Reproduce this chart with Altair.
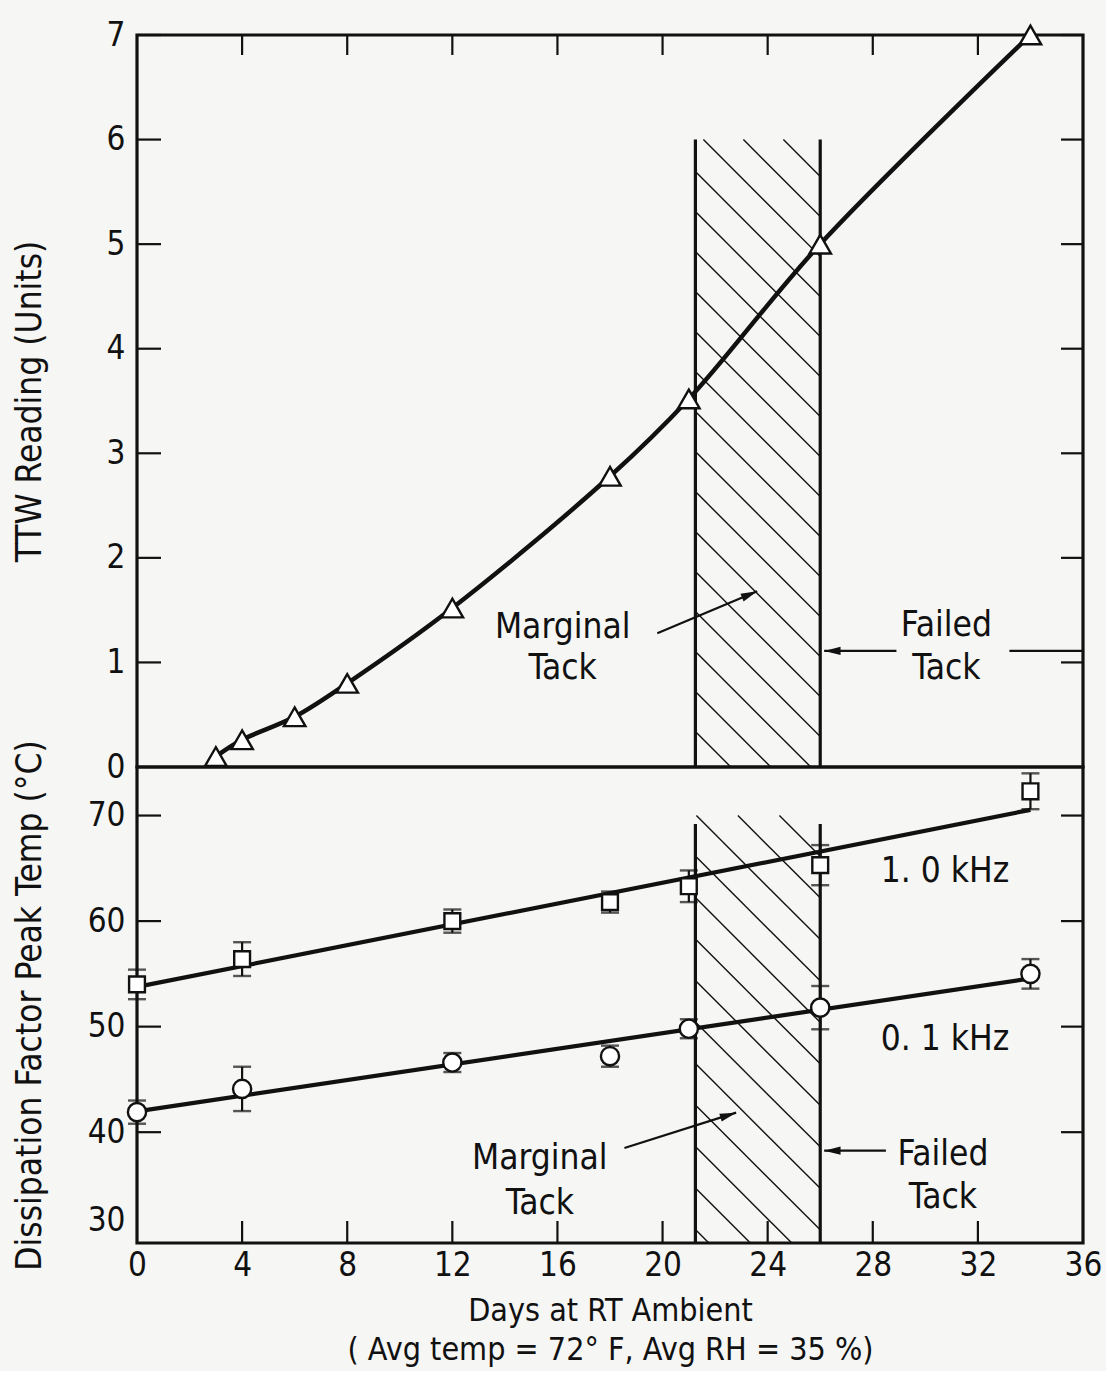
import math
import altair as alt
import pandas as pd

FONT = "Liberation Sans Narrow, DejaVu Sans Condensed, Roboto, sans-serif"
INK = "#111111"
PAPER = "#f6f6f4"

# ---------------- data ----------------
# TTW reading vs. days
ttw_days = [3, 4, 6, 8, 12, 18, 21, 26, 34]
ttw_reading = [0.1, 0.26, 0.48, 0.8, 1.52, 2.78, 3.52, 5.0, 7.0]

# dissipation-factor peak temperature vs. days
df_days = [0, 4, 12, 18, 21, 26, 34]
temp_1khz = [54.0, 56.4, 60.0, 61.8, 63.3, 65.3, 72.3]
err_1khz = [1.4, 1.6, 1.1, 1.0, 1.5, 1.9, 1.7]
temp_01khz = [41.9, 44.1, 46.6, 47.2, 49.8, 51.8, 55.0]
err_01khz = [1.1, 2.1, 0.9, 1.0, 0.9, 2.05, 1.4]

# tack condition bands (days)
marginal_start = 21.25
failed_start = 26.0
band_top_ttw = 6.0
band_top_temp = 69.2
hatch_top_temp = 70.0

x_ticks = list(range(0, 37, 4))
ttw_ticks = list(range(0, 8))
temp_ticks = [30, 40, 50, 60, 70]

X_DOMAIN = [0, 36]
TTW_DOMAIN = [0, 7]
TEMP_DOMAIN = [29.5, 74.6]

# ---------------- sizes ----------------
W = 946
H_TOP = 732
H_BOT = 476
px_per_day = W / (X_DOMAIN[1] - X_DOMAIN[0])
px_per_ttw = H_TOP / (TTW_DOMAIN[1] - TTW_DOMAIN[0])
px_per_temp = H_BOT / (TEMP_DOMAIN[1] - TEMP_DOMAIN[0])

xs = alt.Scale(domain=X_DOMAIN, nice=False, zero=False)
ys_top = alt.Scale(domain=TTW_DOMAIN, nice=False, zero=False)
ys_bot = alt.Scale(domain=TEMP_DOMAIN, nice=False, zero=False)


def hatch(x0, x1, y0, y1, sy, spacing, phase):
    """45-degree (screen) hatch segments clipped to the box [x0,x1]x[y0,y1]."""
    w = (x1 - x0) * px_per_day
    h = (y1 - y0) * sy
    rows = []
    c = phase
    while c - spacing > -w:
        c -= spacing
    while c < h:
        u0 = max(0.0, -c)
        u1 = min(w, h - c)
        if u1 > u0:
            rows.append({
                "x": x0 + u0 / px_per_day, "y": y1 - (u0 + c) / sy,
                "x2": x0 + u1 / px_per_day, "y2": y1 - (u1 + c) / sy,
            })
        c += spacing
    return pd.DataFrame(rows)


def arrows(rows, sy):
    out = []
    for r in rows:
        dx = (r["x2"] - r["x"]) * px_per_day
        dy = -(r["y2"] - r["y"]) * sy
        ang = math.degrees(math.atan2(dx, -dy)) % 360
        out.append(dict(r, angle=ang))
    return pd.DataFrame(out)


# arrowhead: tip at the origin, body trailing behind it
HEAD = "M0,0L0.4,1.6L-0.4,1.6Z"


def frame_ticks(ticks_y, ticks_x, height, side_x="top"):
    tick_df_y = pd.DataFrame({"v": ticks_y})
    tick_df_x = pd.DataFrame({"v": ticks_x})
    left = alt.Chart(tick_df_y).mark_rule(color=INK, strokeWidth=2.2).encode(
        y=alt.Y("v:Q"), x=alt.value(0), x2=alt.value(24))
    right = alt.Chart(tick_df_y).mark_rule(color=INK, strokeWidth=2.2).encode(
        y=alt.Y("v:Q"), x=alt.value(W - 22), x2=alt.value(W))
    if side_x == "top":
        horiz = alt.Chart(tick_df_x).mark_rule(color=INK, strokeWidth=2.2).encode(
            x=alt.X("v:Q"), y=alt.value(0), y2=alt.value(20))
    else:
        horiz = alt.Chart(tick_df_x).mark_rule(color=INK, strokeWidth=2.2).encode(
            x=alt.X("v:Q"), y=alt.value(height - 22), y2=alt.value(height))
    return [left, right, horiz]


# ================= top panel: TTW reading =================
ttw_df = pd.DataFrame({"day": ttw_days, "ttw": ttw_reading})

top_hatch = hatch(marginal_start, failed_start, TTW_DOMAIN[0], band_top_ttw,
                  px_per_ttw, 40.0, 32.0)
top_bounds = pd.DataFrame({"x": [marginal_start, failed_start],
                           "y": [0.0, 0.0], "y2": [band_top_ttw, band_top_ttw]})

top_text = pd.DataFrame({
    "x": [16.2, 16.2, 30.8, 30.8],
    "y": [1.34, 0.95, 1.36, 0.95],
    "t": ["Marginal", "Tack", "Failed", "Tack"],
})
top_arrows = arrows([
    {"x": 19.8, "y": 1.28, "x2": 23.6, "y2": 1.68},
    {"x": 28.9, "y": 1.11, "x2": 26.15, "y2": 1.11},
], px_per_ttw)
top_leader = pd.DataFrame({"x": [33.2], "y": [1.11], "x2": [36.0], "y2": [1.11]})

base_top = alt.Chart(ttw_df)

top_layers = [
    alt.Chart(top_hatch).mark_rule(color=INK, strokeWidth=1.4).encode(
        x=alt.X("x:Q", scale=xs, axis=None), y=alt.Y("y:Q", scale=ys_top),
        x2="x2:Q", y2="y2:Q"),
    alt.Chart(top_bounds).mark_rule(color=INK, strokeWidth=3.2).encode(
        x=alt.X("x:Q", scale=xs, axis=None), y=alt.Y("y:Q", scale=ys_top), y2="y2:Q"),
    base_top.mark_line(color=INK, strokeWidth=4.5, interpolate="catmull-rom").encode(
        x=alt.X("day:Q", scale=xs, axis=None), y=alt.Y("ttw:Q", scale=ys_top)),
    base_top.mark_point(shape="triangle-up", size=460, filled=True, fill="white",
                        stroke=INK, strokeWidth=2.4, opacity=1).encode(
        x=alt.X("day:Q", scale=xs, axis=None), y=alt.Y("ttw:Q", scale=ys_top)),
    alt.Chart(top_arrows).mark_rule(color=INK, strokeWidth=2.2).encode(
        x=alt.X("x:Q", scale=xs, axis=None), y=alt.Y("y:Q", scale=ys_top),
        x2="x2:Q", y2="y2:Q"),
    alt.Chart(top_leader).mark_rule(color=INK, strokeWidth=2.2).encode(
        x=alt.X("x:Q", scale=xs, axis=None), y=alt.Y("y:Q", scale=ys_top),
        x2="x2:Q", y2="y2:Q"),
    alt.Chart(top_arrows).mark_point(shape=HEAD, size=420, filled=True, color=INK,
                                     opacity=1).encode(
        x=alt.X("x2:Q", scale=xs, axis=None), y=alt.Y("y2:Q", scale=ys_top),
        angle=alt.Angle("angle:Q", scale=None)),
    alt.Chart(top_text).mark_text(font=FONT, fontSize=35, color=INK).encode(
        x=alt.X("x:Q", scale=xs, axis=None), y=alt.Y("y:Q", scale=ys_top), text="t:N"),
]
top_layers += frame_ticks(ttw_ticks[1:], x_ticks[1:-1], H_TOP, "top")

top = alt.layer(*top_layers).encode(
    y=alt.Y("y:Q", scale=ys_top,
            axis=alt.Axis(values=ttw_ticks, title="TTW Reading (Units)", format="d",
                          titleX=-97, titleBaseline="alphabetic",
                          titleFontSize=35))
).properties(width=W, height=H_TOP)

# ================= bottom panel: dissipation-factor peak temp =================
temp_df = pd.DataFrame({
    "day": df_days * 2,
    "temp": temp_1khz + temp_01khz,
    "err": err_1khz + err_01khz,
    "freq": ["1.0 kHz"] * len(df_days) + ["0.1 kHz"] * len(df_days),
})
temp_df["lo"] = temp_df["temp"] - temp_df["err"]
temp_df["hi"] = temp_df["temp"] + temp_df["err"]

bot_hatch = hatch(marginal_start, failed_start, TEMP_DOMAIN[0], hatch_top_temp,
                  px_per_temp, 41.5, 40.5)
bot_bounds = pd.DataFrame({"x": [marginal_start, failed_start],
                           "y": [TEMP_DOMAIN[0]] * 2, "y2": [band_top_temp] * 2})
bot_text = pd.DataFrame({
    "x": [15.33, 15.33, 30.67, 30.67, 30.75, 30.75],
    "y": [37.6, 33.3, 37.9, 33.9, 64.7, 48.8],
    "t": ["Marginal", "Tack", "Failed", "Tack", "1. 0 kHz", "0. 1 kHz"],
})
bot_arrows = arrows([
    {"x": 18.55, "y": 38.5, "x2": 22.8, "y2": 41.85},
    {"x": 28.5, "y": 38.25, "x2": 26.15, "y2": 38.25},
], px_per_temp)

base_bot = alt.Chart(temp_df)
xb = alt.X("day:Q", scale=xs)
yb = alt.Y("temp:Q", scale=ys_bot)

bot_layers = [
    alt.Chart(bot_hatch).mark_rule(color=INK, strokeWidth=1.4).encode(
        x=alt.X("x:Q", scale=xs), y=alt.Y("y:Q", scale=ys_bot), x2="x2:Q", y2="y2:Q"),
    alt.Chart(bot_bounds).mark_rule(color=INK, strokeWidth=3.2).encode(
        x=alt.X("x:Q", scale=xs), y=alt.Y("y:Q", scale=ys_bot), y2="y2:Q"),
    base_bot.transform_regression("day", "temp", groupby=["freq"], extent=[0, 34])
    .mark_line(color=INK, strokeWidth=4.2).encode(x=xb, y=yb, detail="freq:N"),
    base_bot.mark_rule(color=INK, strokeWidth=2.2).encode(
        x=xb, y=alt.Y("lo:Q", scale=ys_bot), y2="hi:Q"),
    base_bot.mark_tick(color=INK, orient="horizontal", size=18, thickness=2.4).encode(
        x=xb, y=alt.Y("lo:Q", scale=ys_bot)),
    base_bot.mark_tick(color=INK, orient="horizontal", size=18, thickness=2.4).encode(
        x=xb, y=alt.Y("hi:Q", scale=ys_bot)),
    base_bot.transform_filter(alt.datum.freq == "1.0 kHz").mark_point(
        shape="square", size=250, filled=True, fill="white", stroke=INK,
        strokeWidth=2.4, opacity=1).encode(x=xb, y=yb),
    base_bot.transform_filter(alt.datum.freq == "0.1 kHz").mark_point(
        shape="circle", size=330, filled=True, fill="white", stroke=INK,
        strokeWidth=2.4, opacity=1).encode(x=xb, y=yb),
    alt.Chart(bot_arrows).mark_rule(color=INK, strokeWidth=2.2).encode(
        x=alt.X("x:Q", scale=xs), y=alt.Y("y:Q", scale=ys_bot), x2="x2:Q", y2="y2:Q"),
    alt.Chart(bot_arrows).mark_point(shape=HEAD, size=420, filled=True, color=INK,
                                     opacity=1).encode(
        x=alt.X("x2:Q", scale=xs), y=alt.Y("y2:Q", scale=ys_bot),
        angle=alt.Angle("angle:Q", scale=None)),
    alt.Chart(bot_text).mark_text(font=FONT, fontSize=35, color=INK).encode(
        x=alt.X("x:Q", scale=xs), y=alt.Y("y:Q", scale=ys_bot), text="t:N"),
]
bot_layers += frame_ticks(temp_ticks[1:], x_ticks[1:-1], H_BOT, "bottom")

bottom = alt.layer(*bot_layers).encode(
    x=alt.X("x:Q", scale=xs,
            axis=alt.Axis(values=x_ticks, format="d", labelPadding=6, labelFlush=False,
                          title=["Days at RT Ambient",
                                 "( Avg temp = 72\u00b0 F,  Avg RH = 35 %)"],
                          titlePadding=13, titleLineHeight=39, titleFontSize=32)),
    y=alt.Y("y:Q", scale=ys_bot,
            axis=alt.Axis(values=temp_ticks, title="Dissipation Factor Peak Temp (\u00b0C)",
                          format="d", labelFlush=20, titleX=-97,
                          titleBaseline="alphabetic", titleFontSize=35)),
).properties(width=W, height=H_BOT)

chart = alt.vconcat(top, bottom, spacing=0, bounds="flush").properties(
    padding={"left": 10, "top": 17, "right": 2, "bottom": 4},
    background=PAPER,
).configure_view(
    stroke=INK, strokeWidth=3.2, fill=None
).configure_axis(
    grid=False, domain=False, ticks=False,
    labelFont=FONT, labelFontSize=33, labelColor=INK, labelPadding=12,
    titleFont=FONT, titleColor=INK, titleFontWeight="normal",
)

chart.save("out.html", embed_options={"renderer": "svg", "actions": False})
